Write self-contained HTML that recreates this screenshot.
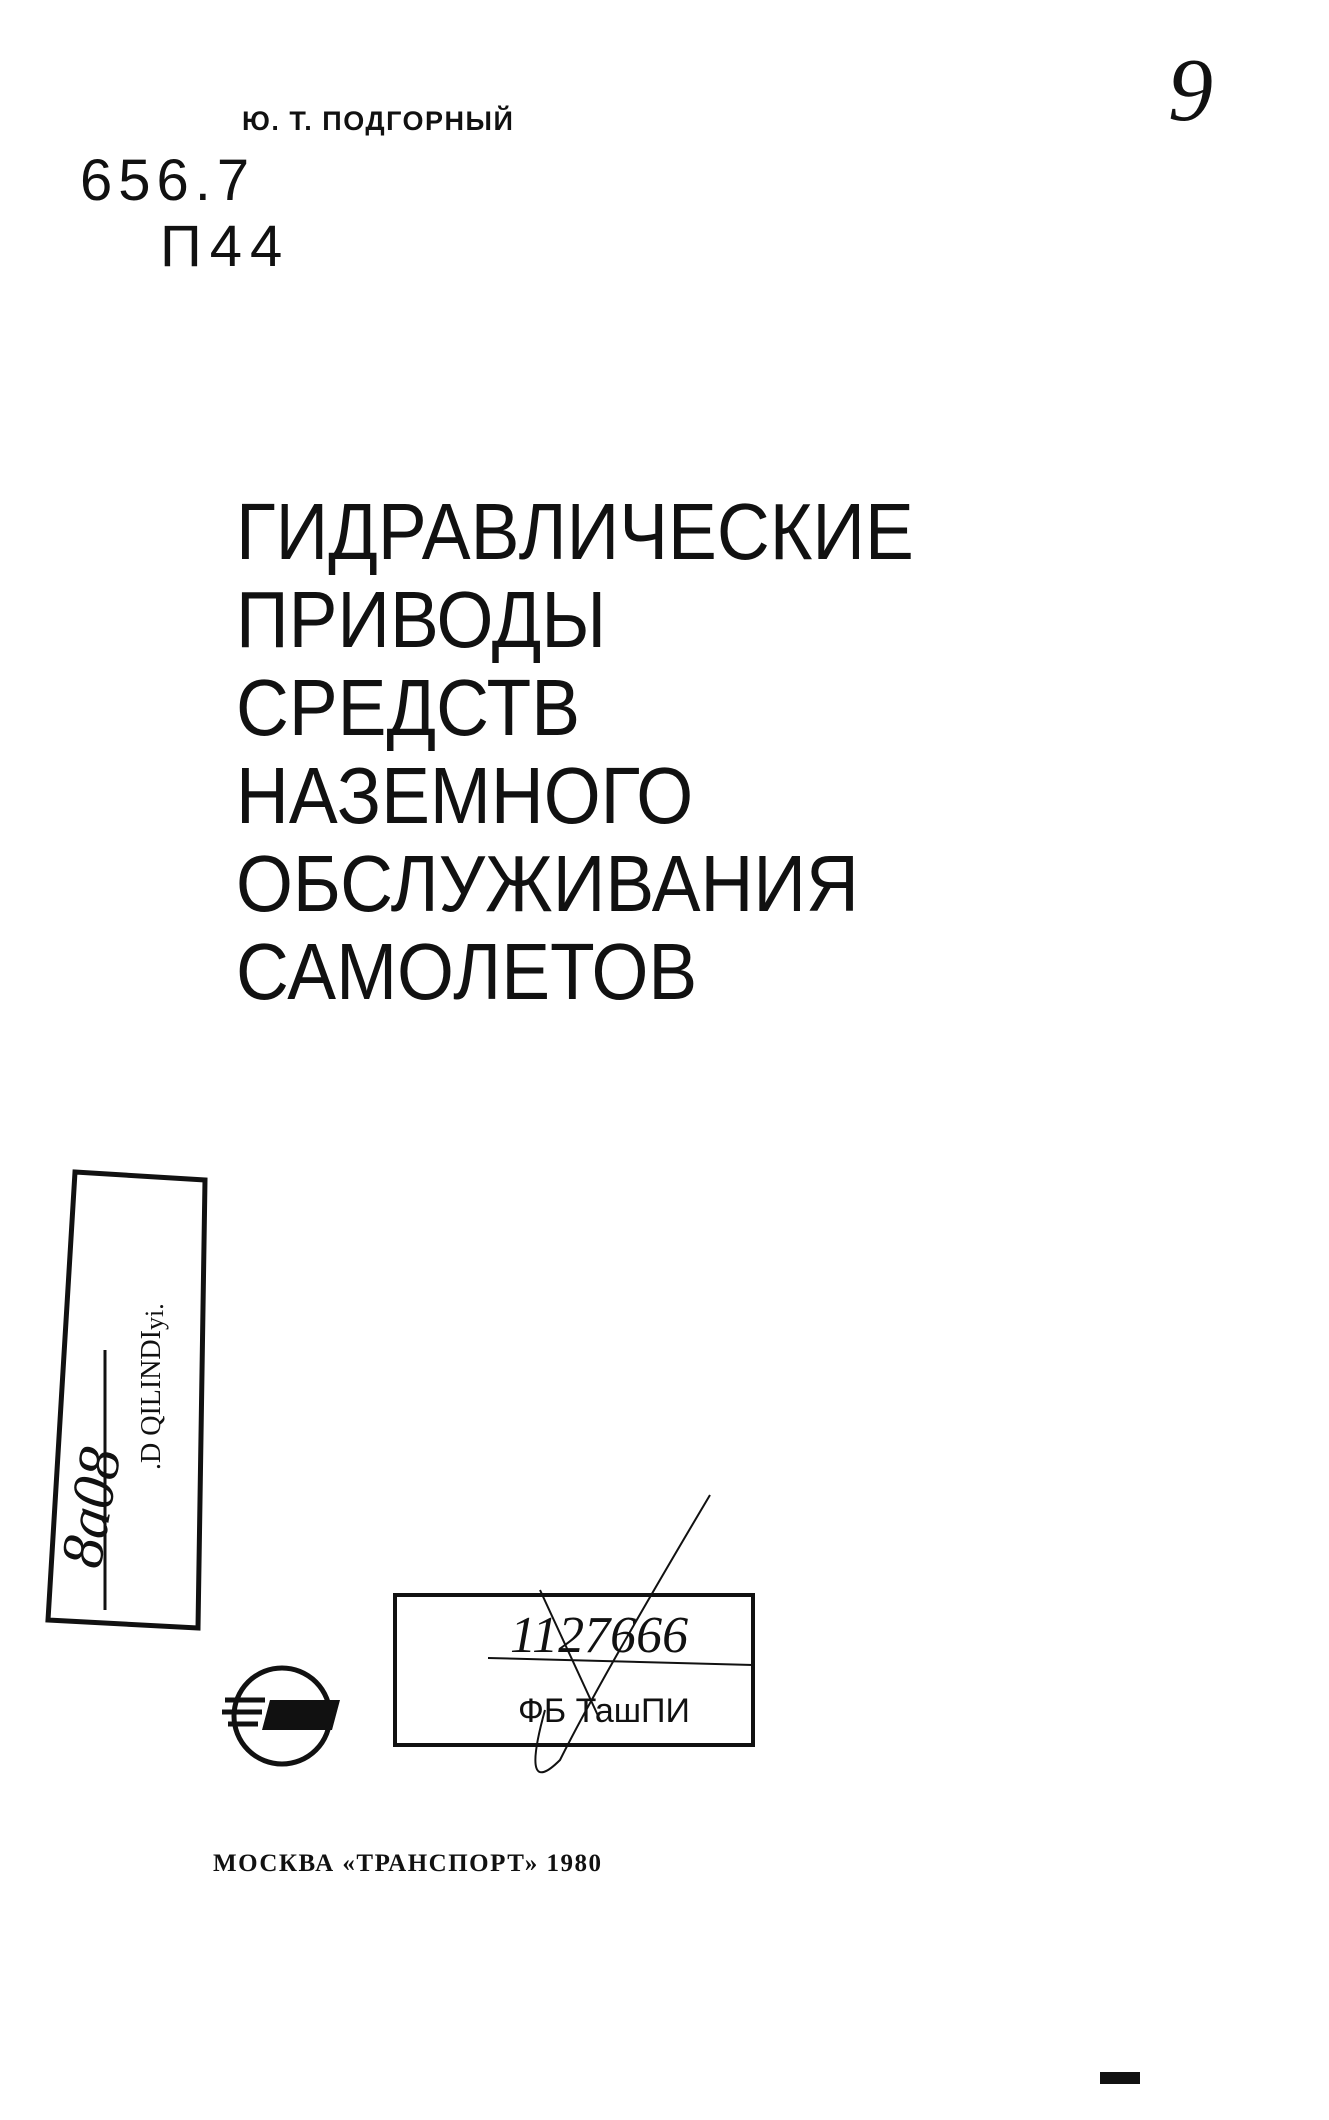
<!DOCTYPE html>
<html><head><meta charset="utf-8"><style>
body{margin:0;width:1329px;height:2120px;background:#fff;position:relative;overflow:hidden;font-family:"Liberation Sans",sans-serif;color:#111}
.a{position:absolute;white-space:nowrap}
.t{left:236px;font-size:80px;line-height:80px;font-weight:normal;transform:scaleX(0.915);transform-origin:0 0}
</style></head><body>
<div class="a" style="left:242px;top:106px;font-size:27px;font-weight:bold;letter-spacing:1.5px">Ю. Т. ПОДГОРНЫЙ</div>
<div class="a t" style="top:492px">ГИДРАВЛИЧЕСКИЕ</div>
<div class="a t" style="top:580px">ПРИВОДЫ</div>
<div class="a t" style="top:668px">СРЕДСТВ</div>
<div class="a t" style="top:756px">НАЗЕМНОГО</div>
<div class="a t" style="top:844px">ОБСЛУЖИВАНИЯ</div>
<div class="a t" style="top:932px">САМОЛЕТОВ</div>
<div class="a" style="left:213px;top:1850px;font-family:'Liberation Serif',serif;font-weight:bold;font-size:25px;letter-spacing:1.5px">МОСКВА «ТРАНСПОРТ» 1980</div>
<svg class="a" style="left:0;top:0" width="1329" height="2120" fill="none" stroke="#111">
<text x="80" y="200" font-family="Liberation Sans" font-size="58" fill="#111" stroke="none" font-weight="200" letter-spacing="6">656.7</text>
<text x="160" y="266" font-family="Liberation Sans" font-size="58" fill="#111" stroke="none" letter-spacing="8">П44</text>
<text x="1168" y="120" font-family="Liberation Serif" font-style="italic" font-size="90" fill="#111" stroke="none">9</text>
<path d="M75 1172 L205 1180 L198 1628 L48 1620 Z" stroke-width="5"/>
<text transform="translate(160,1470) rotate(-90)" font-family="Liberation Serif" font-size="28" fill="#111" stroke="none">.D QILINDI</text>
<text transform="translate(163,1330) rotate(-90)" font-family="Liberation Serif" font-size="26" fill="#111" stroke="none">yi.</text>
<line x1="105" y1="1350" x2="105" y2="1610" stroke-width="3"/>
<text transform="translate(100,1570) rotate(-80)" font-family="Liberation Serif" font-style="italic" font-size="60" fill="#111" stroke="none">8a08</text>
<rect x="395" y="1595" width="358" height="150" stroke-width="4"/>
<line x1="488" y1="1658" x2="753" y2="1665" stroke-width="2"/>
<text x="510" y="1652" font-family="Liberation Serif" font-style="italic" font-size="52" fill="#111" stroke="none">1127666</text>
<text x="518" y="1722" font-family="Liberation Sans" font-size="34" fill="#111" stroke="none">ФБ ТашПИ</text>
<path d="M545 1710 Q520 1800 560 1760 Q600 1680 710 1495" stroke-width="2"/>
<line x1="540" y1="1590" x2="600" y2="1720" stroke-width="2"/>
<circle cx="282" cy="1716" r="48" stroke-width="5"/>
<path d="M225 1700 h40 M222 1712 h40 M228 1724 h30" stroke-width="5"/>
<path d="M270 1700 h70 l-8 30 h-70 z" fill="#111" stroke="none"/>
<rect x="1100" y="2072" width="40" height="12" fill="#111" stroke="none"/>
</svg>
</body></html>
